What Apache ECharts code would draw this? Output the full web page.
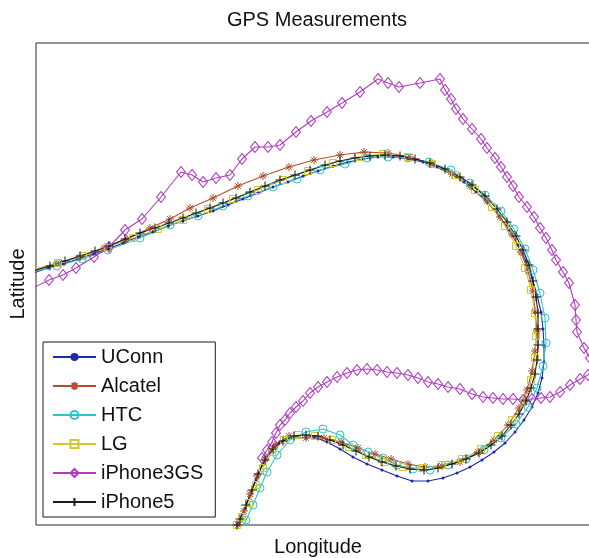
<!DOCTYPE html>
<html>
<head>
<meta charset="utf-8">
<script src="https://cdn.jsdelivr.net/npm/echarts@6/dist/echarts.min.js"></script>
<style>
  html, body { margin: 0; padding: 0; background: #fff; }
  #chart { width: 589px; height: 558px; }
</style>
</head>
<body>
<div id="chart"></div>
<script>
// Track positions recorded by each receiver, as [longitude, latitude] offsets (relative units).
const seriesNames = ['UConn', 'Alcatel', 'HTC', 'LG', 'iPhone3GS', 'iPhone5'];

const uconn = [
  [-3,252],[12,257],[27,261],[42,266],[57,271],[72,276],[87,282],[102,288],[117,293],[132,299],
  [147,304],[162,309],[177,314],[192,320],[207,326],[222,332],[237,338],[252,343],[267,349],[282,354],
  [297,359],[312,363],[327,366],[342,368],[357,368],[372,366],[387,363],[401,358],[415,351],[428,343],
  [440,333],[452,322],[463,309],[473,295],[482,280],[490,264],[496,247],[501,230],[505,213],[507,196],
  [508,179],[508,163],[506,147],[502,132],[496,118],[488,105],[479,93],[469,82],[458,73],[446,65],
  [434,58],[421,52],[407,47],[392,44],[376,44],[361,49],[346,55],[331,61],[317,68],[304,76],
  [291,83],[278,88],[266,90],[254,88],[243,82],[234,73],[226,60],[220,45],[214,30],[209,16],
  [204,3],[202,-1]
];

const alcatel = [
  [-3,255],[21,262],[44,268],[68,277],[91,286],[114,297],[134,306],[154,317],[177,327],[202,339],
  [227,349],[253,358],[278,365],[304,370],[328,373],[352,372],[374,368],[396,361],[416,351],[434,339],
  [451,324],[464,308],[476,291],[485,273],[492,254],[497,234],[499,214],[501,194],[499,174],[496,154],
  [491,135],[483,117],[472,100],[458,85],[442,73],[424,63],[406,59],[389,58],[372,61],[355,66],
  [339,71],[322,77],[305,83],[288,87],[270,87],[253,89],[239,80],[229,66],[221,49],[214,31],
  [208,14],[202,0]
];

const htc = [
  [-3,253],[21,259],[46,266],[72,275],[104,287],[134,300],[162,309],[187,319],[212,329],[237,338],
  [261,346],[284,355],[309,361],[331,367],[352,368],[372,367],[393,363],[415,355],[434,342],[449,330],
  [465,314],[478,296],[489,276],[497,255],[504,232],[509,207],[510,182],[507,159],[501,137],[492,118],
  [480,101],[465,87],[448,75],[430,66],[412,60],[394,55],[377,56],[361,60],[347,67],[332,73],
  [317,80],[304,90],[287,96],[270,93],[254,85],[241,70],[231,53],[224,37],[217,20],[210,5],
  [208,-1]
];

const lg = [
  [-3,255],[22,262],[47,269],[72,278],[97,287],[122,296],[147,305],[172,316],[197,326],[222,335],
  [247,345],[272,354],[297,362],[322,368],[347,371],[372,368],[396,361],[419,350],[439,335],[456,318],
  [469,299],[480,279],[489,257],[495,235],[499,212],[500,189],[499,167],[495,145],[488,124],[476,105],
  [462,89],[445,76],[426,66],[406,60],[386,57],[367,58],[348,63],[330,70],[313,78],[296,85],
  [279,89],[262,90],[248,85],[236,73],[227,57],[220,40],[213,22],[206,8],[201,0]
];

const iphone3gs = [
  [-3,237],[13,245],[27,250],[40,257],[58,268],[73,278],[89,295],[106,306],[125,328],[145,353],
  [156,350],[167,343],[180,347],[194,350],[206,366],[219,378],[232,378],[244,380],[260,393],[275,404],
  [291,413],[306,422],[324,433],[342,446],[352,442],[363,438],[384,442],[404,446],[409,435],[415,426],
  [420,416],[427,406],[436,396],[445,386],[451,377],[459,367],[465,358],[471,348],[477,339],[483,328],
  [491,318],[498,308],[504,297],[510,287],[516,275],[520,265],[527,253],[533,242],[539,220],[540,205],
  [541,193],[548,177],[554,167],[558,158],[552,150],[544,146],[534,140],[524,133],[514,128],[505,127],
  [496,126],[487,125],[477,126],[467,126],[457,127],[447,128],[436,131],[424,136],[412,138],[402,141],
  [392,143],[382,147],[372,150],[361,152],[351,153],[341,155],[331,156],[321,155],[311,152],[301,148],
  [291,143],[282,138],[274,132],[267,124],[260,118],[254,112],[249,105],[244,100],[240,92],[236,83],
  [231,75],[226,67]
];

const iphone5 = [
  [-3,254],[14,259],[29,264],[44,269],[59,274],[73,279],[89,286],[104,292],[119,297],[133,302],
  [147,307],[160,312],[174,317],[187,322],[200,327],[214,333],[229,339],[244,345],[259,350],[274,355],
  [289,360],[304,364],[319,367],[334,369],[349,370],[364,369],[379,366],[394,362],[409,356],[424,348],
  [436,340],[449,329],[461,316],[471,303],[480,289],[487,275],[493,260],[497,244],[500,228],[502,212],
  [502,196],[502,180],[501,165],[499,151],[495,137],[490,124],[483,111],[475,100],[466,89],[455,80],
  [443,72],[430,66],[416,61],[402,57],[388,55],[374,56],[360,59],[346,63],[333,68],[320,74],
  [307,80],[294,85],[282,89],[270,90],[258,89],[247,84],[237,76],[229,65],[222,51],[216,35],
  [210,20],[204,6],[201,0]
];

const lonRange = [0, 562];
const latRange = [0, 482];

// Marker shapes drawn as open strokes
const ASTERISK = 'path://M0,5L10,5M5,0L5,10M1.5,1.5L8.5,8.5M8.5,1.5L1.5,8.5';
const PLUS = 'path://M5,0L5,10M0,5L10,5';

const styles = {
  UConn:     { color: '#1c2aa8', symbol: 'circle',  size: 3,  filled: true },
  Alcatel:   { color: '#b0502e', symbol: ASTERISK,  size: 8,  filled: false },
  HTC:       { color: '#30c4c8', symbol: 'circle',  size: 8,  filled: false },
  LG:        { color: '#d6c82a', symbol: 'rect',    size: 7,  filled: false },
  iPhone3GS: { color: '#b03cc0', symbol: 'diamond', size: [9, 11], filled: false },
  iPhone5:   { color: '#1a1a1a', symbol: PLUS,      size: 9,  filled: false }
};

const tracks = {
  UConn: uconn, Alcatel: alcatel, HTC: htc, LG: lg, iPhone3GS: iphone3gs, iPhone5: iphone5
};

const FONT = 'Liberation Sans, Arial, Helvetica, sans-serif';

const series = seriesNames.map(function (name) {
  const s = styles[name];
  return {
    name: name,
    type: 'line',
    data: tracks[name],
    showAllSymbol: true,
    symbol: s.symbol,
    symbolSize: s.size,
    clip: true,
    lineStyle: { color: s.color, width: 1.1 },
    itemStyle: {
      color: s.filled ? s.color : 'rgba(255,255,255,0)',
      borderColor: s.color,
      borderWidth: s.filled ? 0 : 1
    },
    emphasis: { disabled: true },
    z: 2
  };
});

const chart = echarts.init(document.getElementById('chart'), null, { renderer: 'canvas' });

// The plotting box runs a little past the right edge of the page, so its right side is not shown.
chart.setOption({
  animation: false,
  backgroundColor: '#ffffff',
  grid: {
    left: 36, top: 43, width: 562, height: 482,
    outerBoundsMode: 'none',
    show: true, borderColor: '#2a2a2a', borderWidth: 1, backgroundColor: '#ffffff'
  },
  xAxis: {
    type: 'value', min: lonRange[0], max: lonRange[1],
    axisLine: { show: false }, axisTick: { show: false },
    axisLabel: { show: false }, splitLine: { show: false }
  },
  yAxis: {
    type: 'value', min: latRange[0], max: latRange[1],
    axisLine: { show: false }, axisTick: { show: false },
    axisLabel: { show: false }, splitLine: { show: false }
  },
  legend: {
    data: seriesNames,
    orient: 'vertical',
    left: 43, top: 342,
    padding: [5, 12, 5, 9],
    itemGap: 9,
    itemWidth: 43,
    itemHeight: 10,
    selectedMode: false,
    backgroundColor: '#ffffff',
    borderColor: '#1a1a1a',
    borderWidth: 1,
    borderRadius: 0,
    textStyle: { color: '#111', fontSize: 20, fontFamily: FONT },
    z: 10
  },
  graphic: [
    { type: 'text', x: 317, y: 20, z: 20,
      style: { text: 'GPS Measurements', fill: '#111', fontSize: 20, fontFamily: FONT,
               align: 'center', verticalAlign: 'middle' } },
    { type: 'text', x: 318, y: 547, z: 20,
      style: { text: 'Longitude', fill: '#111', fontSize: 20, fontFamily: FONT,
               align: 'center', verticalAlign: 'middle' } },
    { type: 'text', x: 18, y: 284, rotation: Math.PI / 2, z: 20,
      style: { text: 'Latitude', fill: '#111', fontSize: 20, fontFamily: FONT,
               align: 'center', verticalAlign: 'middle' } }
  ],
  series: series
});
</script>
</body>
</html>
